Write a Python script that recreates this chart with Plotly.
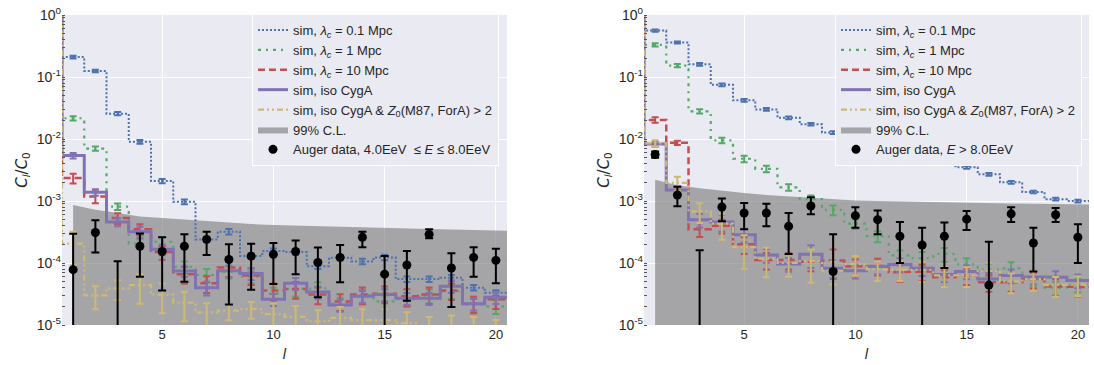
import plotly.graph_objects as go

# ---------------- data ----------------
ELL = list(range(0, 21))          # multipole l (l=0 -> C0/C0 = 1)
BAND_ELL = list(range(1, 22))     # l values of the 99% C.L. band

Y_TICKVALS = [1e-5, 1e-4, 1e-3, 1e-2, 1e-1, 1e0]
Y_TICKTEXT = ["10<sup>-5</sup>", "10<sup>-4</sup>", "10<sup>-3</sup>",
              "10<sup>-2</sup>", "10<sup>-1</sup>", "10<sup>0</sup>"]
X_TICKVALS = [5, 10, 15, 20]

# ---- left panel: 4 EeV <= E <= 8 EeV ----
L_blue = [1, 0.21, 0.125, 0.0256, 0.0090, 0.0021, 9.7e-4, 2.4e-4, 3.2e-4, 1.3e-4, 1.56e-4,
          1.5e-4, 8.9e-5, 1.22e-4, 1.06e-4, 1.23e-4, 5.5e-5, 5.5e-5, 5.8e-5, 4.0e-5, 3.3e-5]
L_green = [1, 0.0216, 0.0070, 8.1e-4, 2.05e-4, 2.2e-4, 8.7e-5, 6.4e-5, 7.2e-5, 6.0e-5, 3.2e-5,
           3.8e-5, 3.9e-5, 2.2e-5, 3.0e-5, 2.4e-5, 2.6e-5, 3.0e-5, 3.5e-5, 2.1e-5, 2.0e-5]
L_red = [1, 2.34e-3, 1.18e-3, 5.3e-4, 3.5e-4, 1.5e-4, 6.6e-5, 4.7e-5, 8.5e-5, 6.3e-5, 3.6e-5,
         3.8e-5, 3.1e-5, 2.4e-5, 3.1e-5, 3.2e-5, 2.9e-5, 3.1e-5, 3.6e-5, 2.2e-5, 2.6e-5]
L_purple = [1, 5.4e-3, 1.38e-3, 4.6e-4, 3.2e-4, 1.66e-4, 7.4e-5, 4.0e-5, 7.5e-5, 6.8e-5, 2.6e-5,
            4.7e-5, 3.4e-5, 2.1e-5, 2.9e-5, 3.1e-5, 2.7e-5, 2.7e-5, 4.2e-5, 2.2e-5, 2.8e-5]
L_yellow = [1, 2.05e-4, 3.0e-5, 3.9e-5, 4.4e-5, 3.1e-5, 2.3e-5, 1.6e-5, 1.7e-5, 1.8e-5, 1.5e-5,
            1.35e-5, 1.15e-5, 1.3e-5, 1.2e-5, 1.2e-5, 1.07e-5, 9.0e-6, 9.5e-6, 9.0e-6, 8.0e-6]
# relative error half-widths (l = 1..20)
L_blue_err = [0.05, 0.05, 0.06, 0.07, 0.08, 0.09, 0.10, 0.10, 0.10, 0.10,
              0.10, 0.10, 0.10, 0.10, 0.10, 0.10, 0.10, 0.10, 0.10, 0.10]
L_green_err = [0.08, 0.08, 0.12, 0.18, 0.18, 0.22, 0.25, 0.22, 0.22, 0.25,
               0.25, 0.25, 0.25, 0.25, 0.25, 0.25, 0.25, 0.25, 0.25, 0.25]
L_red_err = [0.18, 0.22, 0.20, 0.20, 0.25, 0.30, 0.30, 0.30, 0.30, 0.30,
             0.30, 0.30, 0.30, 0.30, 0.30, 0.30, 0.30, 0.30, 0.30, 0.30]
L_purple_err = [0.10, 0.12, 0.15, 0.20, 0.20, 0.20, 0.25, 0.22, 0.22, 0.22,
                0.22, 0.22, 0.22, 0.22, 0.22, 0.22, 0.22, 0.22, 0.22, 0.22]
L_yellow_err = [0.55, 0.40, 0.35, 0.50, 0.50, 0.50, 0.40, 0.30, 0.30, 0.50,
                0.50, 0.50, 0.50, 0.50, 0.50, 0.50, 0.50, 0.50, 0.50, 0.50]
L_auger = [7.8e-5, 3.1e-4, 3.0e-6, 1.86e-4, 1.53e-4, 1.86e-4, 2.4e-4, 1.14e-4, 1.29e-4, 1.38e-4,
           1.53e-4, 1.02e-4, 1.23e-4, 2.6e-4, 6.6e-5, 9.3e-5, 2.9e-4, 8.3e-5, 1.23e-4, 1.1e-4]
L_auger_hi = [2.95e-4, 4.9e-4, 1.07e-4, 3.0e-4, 2.6e-4, 2.9e-4, 3.2e-4, 2.0e-4, 2.05e-4, 2.1e-4,
              2.3e-4, 1.78e-4, 1.95e-4, 3.2e-4, 1.3e-4, 1.56e-4, 3.5e-4, 1.44e-4, 1.8e-4, 1.7e-4]
L_auger_lo = [1e-7, 1.48e-4, 1e-7, 6.0e-5, 3.6e-5, 5.0e-5, 1.34e-4, 2.15e-5, 3.7e-5, 4.6e-5,
              6.6e-5, 2.8e-5, 4.9e-5, 1.8e-4, 1e-7, 2.45e-5, 2.5e-4, 1.96e-5, 6.0e-5, 4.7e-5]
L_band_hi = [8.6e-4, 7.2e-4, 6.4e-4, 5.6e-4, 5.3e-4, 5.0e-4, 4.7e-4, 4.45e-4, 4.25e-4, 4.1e-4, 4.0e-4,
             3.9e-4, 3.8e-4, 3.72e-4, 3.65e-4, 3.58e-4, 3.52e-4, 3.46e-4, 3.4e-4, 3.35e-4, 3.3e-4]
L_band_lo = [1e-6, 1e-6, 1e-6, 1e-6, 1e-6, 1e-6, 1e-6, 1e-6, 1e-6, 1e-6, 1e-6,
             1e-6, 1e-6, 1e-6, 1e-6, 1e-6, 1e-6, 1e-6, 1e-6, 1e-6, 1e-6]

# ---- right panel: E > 8 EeV ----
R_blue = [1, 0.56, 0.36, 0.16, 0.075, 0.042, 0.030, 0.022, 0.0173, 0.0127, 9.5e-3,
          7.0e-3, 5.0e-3, 4.3e-3, 4.1e-3, 3.5e-3, 2.7e-3, 2.0e-3, 1.4e-3, 1.07e-3, 1.0e-3]
R_green = [1, 0.33, 0.153, 0.028, 9.5e-3, 4.8e-3, 3.3e-3, 1.66e-3, 1.07e-3, 7.2e-4, 4.3e-4,
           2.7e-4, 1.33e-4, 1.2e-4, 1.4e-4, 9.5e-5, 7.8e-5, 8.2e-5, 5.5e-5, 4.0e-5, 4.5e-5]
R_red = [1, 0.0203, 8.7e-3, 3.5e-4, 4.0e-4, 2.0e-4, 1.12e-4, 1.12e-4, 1.05e-4, 1.1e-4, 8.8e-5,
         9.0e-5, 7.1e-5, 7.3e-5, 5.9e-5, 6.3e-5, 4.9e-5, 4.9e-5, 5.5e-5, 4.2e-5, 4.1e-5]
R_purple = [1, 8.3e-3, 1.5e-3, 5.0e-4, 4.6e-4, 2.85e-4, 1.35e-4, 9.6e-5, 1.38e-4, 8.2e-5, 7.5e-5,
            8.8e-5, 9.5e-5, 8.2e-5, 6.5e-5, 7.3e-5, 5.5e-5, 6.3e-5, 6.0e-5, 5.9e-5, 5.2e-5]
R_yellow = [1, 8.5e-3, 1.96e-3, 6.8e-4, 4.3e-4, 1.8e-4, 1.18e-4, 1.0e-4, 1.07e-4, 7.5e-5, 9.6e-5,
            7.9e-5, 7.9e-5, 7.7e-5, 6.3e-5, 6.3e-5, 7.5e-5, 5.0e-5, 5.5e-5, 4.4e-5, 4.5e-5]
R_blue_err = [0.04, 0.04, 0.05, 0.05, 0.05, 0.05, 0.05, 0.05, 0.05, 0.05,
              0.05, 0.05, 0.05, 0.05, 0.05, 0.05, 0.05, 0.05, 0.05, 0.05]
R_green_err = [0.06, 0.06, 0.08, 0.10, 0.12, 0.12, 0.12, 0.15, 0.18, 0.18,
               0.20, 0.20, 0.25, 0.25, 0.25, 0.25, 0.25, 0.25, 0.25, 0.25]
R_red_err = [0.10, 0.08, 0.25, 0.25, 0.30, 0.30, 0.30, 0.30, 0.50, 0.30,
             0.30, 0.30, 0.30, 0.30, 0.30, 0.30, 0.30, 0.30, 0.30, 0.30]
R_purple_err = [0.10, 0.15, 0.25, 0.30, 0.25, 0.25, 0.25, 0.40, 0.30, 0.25,
                0.25, 0.25, 0.25, 0.25, 0.25, 0.25, 0.25, 0.25, 0.25, 0.25]
R_yellow_err = [0.12, 0.25, 0.35, 0.45, 0.55, 0.50, 0.40, 0.55, 0.40, 0.35,
                0.35, 0.35, 0.35, 0.35, 0.35, 0.35, 0.35, 0.35, 0.35, 0.35]
R_auger = [5.6e-3, 1.25e-3, 3.0e-6, 8.0e-4, 6.4e-4, 6.4e-4, 3.9e-4, 8.3e-4, 7.3e-5, 5.8e-4,
           5.0e-4, 2.7e-4, 1.95e-4, 2.7e-4, 5.1e-4, 4.4e-5, 6.2e-4, 2.1e-4, 6.0e-4, 2.6e-4]
R_auger_hi = [6.3e-3, 1.7e-3, 1.6e-4, 1.1e-3, 9.3e-4, 9.0e-4, 6.4e-4, 1.15e-3, 2.9e-4, 7.9e-4,
              7.0e-4, 4.6e-4, 3.7e-4, 4.5e-4, 6.9e-4, 2.2e-4, 7.9e-4, 3.7e-4, 7.7e-4, 4.2e-4]
R_auger_lo = [5.0e-3, 8.2e-4, 1e-7, 4.7e-4, 3.5e-4, 3.9e-4, 1.4e-4, 6.1e-4, 1e-7, 3.7e-4,
              2.9e-4, 1.0e-4, 1e-7, 8.3e-5, 3.4e-4, 1e-7, 4.6e-4, 7.3e-5, 4.6e-4, 1.0e-4]
R_band_hi = [2.2e-3, 1.8e-3, 1.6e-3, 1.45e-3, 1.35e-3, 1.25e-3, 1.18e-3, 1.12e-3, 1.07e-3, 1.02e-3,
             1.0e-3, 9.8e-4, 9.6e-4, 9.4e-4, 9.3e-4, 9.2e-4, 9.1e-4, 9.0e-4, 8.85e-4, 8.75e-4, 8.7e-4]
R_band_lo = [1e-6, 1e-6, 1e-6, 1e-6, 1e-6, 1e-6, 1e-6, 1e-6, 1e-6, 1e-6, 1e-6,
             1e-6, 1e-6, 1e-6, 1e-6, 1e-6, 1e-6, 1e-6, 1e-6, 1e-6, 1e-6]

NAMES = {
    "blue": "sim, <i>λ<sub>c</sub></i> = 0.1 Mpc",
    "green": "sim, <i>λ<sub>c</sub></i> = 1 Mpc",
    "red": "sim, <i>λ<sub>c</sub></i> = 10 Mpc",
    "purple": "sim, iso CygA",
    "yellow": "sim, iso CygA & <i>Z</i><sub>0</sub>(M87, ForA) > 2",
}
BAND_NAME = "99% C.L."
AUGER_NAMES = ["Auger data, 4.0EeV  ≤ <i>E</i> ≤ 8.0EeV", "Auger data, <i>E</i> > 8.0EeV"]

# ---------------- styles ----------------
STYLE = {
    "blue": dict(color="#4C72B0", dash="2px,2px", width=2),
    "green": dict(color="#55A868", dash="3px,5px,2px,5px", width=2.2),
    "red": dict(color="#C44E52", dash="7px,4px", width=2.5),
    "purple": dict(color="#8172B2", dash="solid", width=3),
    "yellow": dict(color="#CCB974", dash="6px,3px,2px,3px,2px,3px", width=2.2),
}
BG = "#EAEAF2"
FONT = "Liberation Sans, Arial, sans-serif"

def step_xy(ell, vals):
    xs, ys = [], []
    for l, v in zip(ell, vals):
        xs += [l - 0.5, l + 0.5]
        ys += [v, v]
    return xs, ys

fig = go.Figure()

panels = [
    dict(xa="x", ya="y", leg="legend",
         sims={"blue": (L_blue, L_blue_err), "green": (L_green, L_green_err),
               "red": (L_red, L_red_err), "purple": (L_purple, L_purple_err),
               "yellow": (L_yellow, L_yellow_err)},
         auger=(L_auger, L_auger_hi, L_auger_lo), band=(L_band_hi, L_band_lo),
         auger_name=AUGER_NAMES[0]),
    dict(xa="x2", ya="y2", leg="legend2",
         sims={"blue": (R_blue, R_blue_err), "green": (R_green, R_green_err),
               "red": (R_red, R_red_err), "purple": (R_purple, R_purple_err),
               "yellow": (R_yellow, R_yellow_err)},
         auger=(R_auger, R_auger_hi, R_auger_lo), band=(R_band_hi, R_band_lo),
         auger_name=AUGER_NAMES[1]),
]

for p in panels:
    hi, lo = p["band"]
    fig.add_trace(go.Scatter(
        x=BAND_ELL + BAND_ELL[::-1], y=hi + lo[::-1], fill="toself",
        fillcolor="rgba(128,128,128,0.65)", line=dict(width=0), mode="lines",
        name=BAND_NAME, legend=p["leg"], legendrank=6, xaxis=p["xa"], yaxis=p["ya"],
        hoverinfo="skip"))
    rank = 1
    for key in ["blue", "green", "red", "purple", "yellow"]:
        vals, rel = p["sims"][key]
        st = STYLE[key]
        xs, ys = step_xy(ELL, vals)
        fig.add_trace(go.Scatter(
            x=xs, y=ys, mode="lines", name=NAMES[key], legend=p["leg"], legendrank=rank,
            line=dict(color=st["color"], dash=st["dash"], width=st["width"]),
            xaxis=p["xa"], yaxis=p["ya"]))
        ev = vals[1:]
        fig.add_trace(go.Scatter(
            x=ELL[1:], y=ev, mode="markers", showlegend=False,
            marker=dict(size=2, color="rgba(0,0,0,0)"),
            error_y=dict(type="data", symmetric=False,
                         array=[v * r for v, r in zip(ev, rel)],
                         arrayminus=[v * r for v, r in zip(ev, rel)],
                         color=st["color"], thickness=2, width=3.5),
            xaxis=p["xa"], yaxis=p["ya"]))
        rank += 1
    a, ahi, alo = p["auger"]
    fig.add_trace(go.Scatter(
        x=ELL[1:], y=a, mode="markers", name=p["auger_name"], legend=p["leg"], legendrank=7,
        marker=dict(size=9, color="black"),
        error_y=dict(type="data", symmetric=False,
                     array=[h - v for h, v in zip(ahi, a)],
                     arrayminus=[v - l for v, l in zip(a, alo)],
                     color="black", thickness=2, width=4),
        xaxis=p["xa"], yaxis=p["ya"]))

W, H = 1094, 365
ML, MR, MT, MB = 62, 5, 13, 38
PW = W - ML - MR
PH = H - MT - MB

xcommon = dict(range=[0.5, 20.5], tickvals=X_TICKVALS, showgrid=True, gridcolor="white",
               gridwidth=1, zeroline=False, showline=False, ticks="",
               tickfont=dict(family=FONT, size=13, color="#262626"),
               title=dict(text="<i>l</i>", font=dict(family="DejaVu Sans", size=14, color="#262626"),
                          standoff=8))
ycommon = dict(type="log", range=[-5, 0], tickvals=Y_TICKVALS, ticktext=Y_TICKTEXT,
               showgrid=True, gridcolor="white", gridwidth=1, zeroline=False, showline=False,
               ticks="", tickfont=dict(family=FONT, size=14, color="#262626"),
               minor=dict(dtick="D1", ticks="inside", ticklen=3, tickwidth=1,
                          tickcolor="#555555", showgrid=False),
               title=dict(text="<i>C<sub>l</sub></i>/<i>C</i><sub>0</sub>",
                          font=dict(family="DejaVu Sans", size=15, color="#262626"), standoff=5))

LEG_Y = 1 + 1 / PH
fig.update_layout(
    width=W, height=H, margin=dict(l=ML, r=MR, t=MT, b=MB),
    paper_bgcolor="white", plot_bgcolor=BG, showlegend=True,
    xaxis=dict(domain=[0, 445 / PW], anchor="y", **xcommon),
    yaxis=dict(domain=[0, 1], anchor="x", **ycommon),
    xaxis2=dict(domain=[582 / PW, 1], anchor="y2", **xcommon),
    yaxis2=dict(domain=[0, 1], anchor="x2", **ycommon),
    legend=dict(x=(499 - ML) / PW, y=LEG_Y, xanchor="right", yanchor="top",
                bgcolor=BG, bordercolor="white", borderwidth=1, tracegroupgap=0,
                font=dict(family=FONT, size=13, color="#262626")),
    legend2=dict(x=(1082 - ML) / PW, y=LEG_Y, xanchor="right", yanchor="top",
                 bgcolor=BG, bordercolor="white", borderwidth=1, tracegroupgap=0,
                 font=dict(family=FONT, size=13, color="#262626")),
)

fig.write_html("out.html")
